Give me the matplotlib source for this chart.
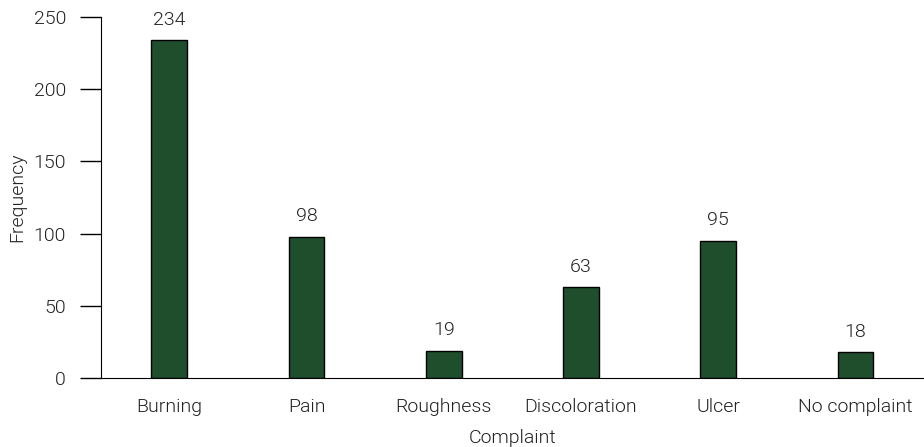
import matplotlib.pyplot as plt
import numpy as np

plt.rcParams['font.family'] = ['Roboto', 'DejaVu Sans']
plt.rcParams['font.weight'] = 300
plt.rcParams['axes.labelweight'] = 300

complaints = ['Burning', 'Pain', 'Roughness', 'Discoloration', 'Ulcer', 'No complaint']
frequency = [234, 98, 19, 63, 95, 18]

fig = plt.figure(figsize=(9.24, 4.47), dpi=100)
ax = fig.add_axes([0.109, 0.154, 0.891, 0.808])

x = np.arange(len(complaints))
bars = ax.bar(x, frequency, width=0.26, color='#1f4e2d', edgecolor='black', linewidth=1)

for xi, v in zip(x, frequency):
    ax.text(xi, v + 8, str(v), ha='center', va='bottom', fontsize=14, color='#222222')

ax.set_xlim(-0.5, 5.5)
ax.set_ylim(0, 250)
ax.set_yticks([0, 50, 100, 150, 200, 250])
ax.set_xticks(x)
ax.set_xticklabels(complaints)

ax.spines['top'].set_visible(False)
ax.spines['right'].set_visible(False)
ax.tick_params(axis='y', length=15, width=1, pad=10, labelsize=14, labelcolor='#222222')
ax.tick_params(axis='x', length=0, pad=14, labelsize=14, labelcolor='#222222')

ax.set_xlabel('Complaint', fontsize=14, color='#222222')
ax.set_ylabel('Frequency', fontsize=14, color='#222222')
ax.xaxis.set_label_coords(0.5, -0.14)
ax.yaxis.set_label_coords(-0.091, 0.5)

fig.savefig('out.png', dpi=100)
